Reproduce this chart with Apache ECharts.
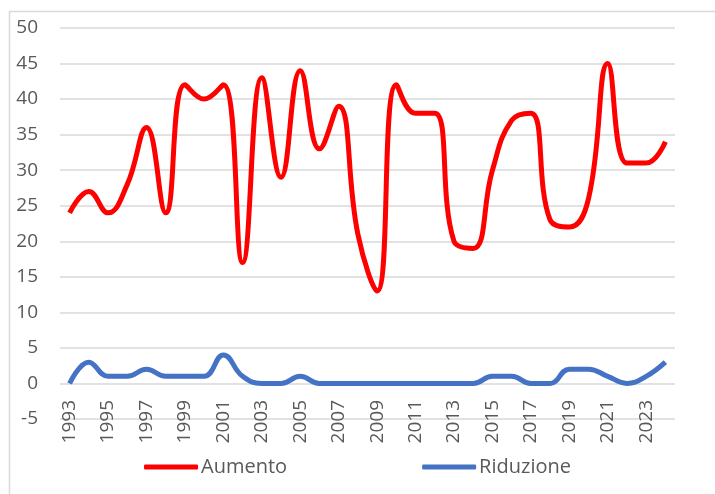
<!DOCTYPE html>
<html>
<head>
<meta charset="utf-8">
<script src="https://cdn.jsdelivr.net/npm/echarts@6/dist/echarts.min.js"></script>
<style>html,body{margin:0;padding:0;background:#fff;}#c{width:715px;height:494px;}</style>
</head>
<body>
<div id="c"></div>
<script>
const years = [];
for (let y = 1993; y <= 2024; y++) years.push(String(y));
const aumento = [24,27,24,28,36,24,42,40,42,17,43,29,44,33,39,21,13,42,38,38,20,19,30,37,38,23,22,26,45,31,31,34];
const riduzione = [0,3,1,1,2,1,1,1,4,1,0,0,1,0,0,0,0,0,0,0,0,0,1,1,0,0,2,2,1,0,1,3];
const seriesNames = ['Aumento','Riduzione'];
const yTicks = {min:-5, max:50, interval:5};

const font = "'Open Sans', 'Liberation Sans', sans-serif";
const chart = echarts.init(document.getElementById('c'));
chart.setOption({
  animation:false,
  graphic:[{type:'rect', shape:{x:9.5,y:11.5,width:800,height:600}, style:{fill:'none', stroke:'#d9d9d9', lineWidth:1.5}, silent:true}],
  grid:{left:60, right:40, top:28, bottom:75},
  legend:{
    bottom:12, left:'center', itemGap:135, itemWidth:54, itemHeight:5,
    textStyle:{color:'#595959', fontSize:20, fontFamily:font, padding:[0,0,0,-2]},
    data:seriesNames.map(n=>({name:n, icon:'roundRect'}))
  },
  xAxis:{
    type:'category', data:years, boundaryGap:true,
    offset:-36,
    axisLine:{show:false, onZero:false},
    axisTick:{show:false},
    axisLabel:{interval:1, rotate:90, color:'#595959', fontSize:19, fontFamily:font, margin:17}
  },
  yAxis:{
    type:'value', min:yTicks.min, max:yTicks.max, interval:yTicks.interval,
    axisLine:{show:false}, axisTick:{show:false},
    splitLine:{lineStyle:{color:'#d9d9d9', width:1.5}},
    axisLabel:{color:'#595959', fontSize:19, fontFamily:font, margin:22}
  },
  series:[
    {name:seriesNames[0], type:'line', data:aumento, smooth:0.45, showSymbol:false, lineStyle:{color:'#ff0000', width:5}, itemStyle:{color:'#ff0000'}},
    {name:seriesNames[1], type:'line', data:riduzione, smooth:0.45, showSymbol:false, lineStyle:{color:'#4472c4', width:5}, itemStyle:{color:'#4472c4'}}
  ]
});
</script>
</body>
</html>
